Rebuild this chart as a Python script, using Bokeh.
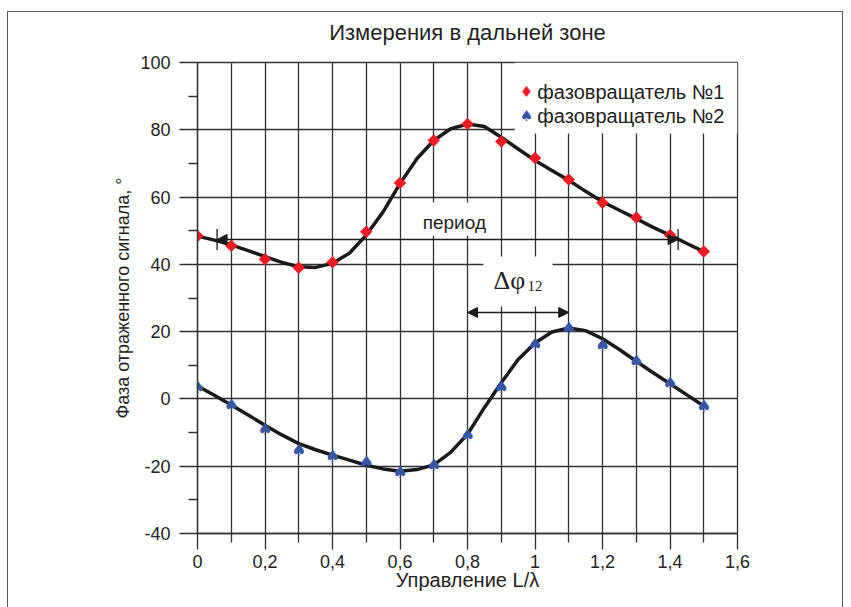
from bokeh.plotting import figure
from bokeh.models import (FixedTicker, Range1d, Arrow, NormalHead, TeeHead, Label,
                          BoxAnnotation, ColumnDataSource, InlineStyleSheet)
from bokeh.core.properties import value
from bokeh.embed import file_html
from bokeh.resources import INLINE

# ---------------- data ----------------
x_points = [0.0, 0.1, 0.2, 0.3, 0.4, 0.5, 0.6, 0.7, 0.8, 0.9, 1.0, 1.1, 1.2, 1.3, 1.4, 1.5]
phase1 = [48.4, 45.5, 41.5, 39.0, 40.6, 49.7, 64.2, 76.8, 81.7, 76.5, 71.6, 65.2, 58.3, 53.9, 48.7, 43.8]
phase2 = [3.5, -1.9, -8.9, -15.3, -17.0, -18.8, -21.6, -19.7, -10.8, 3.5, 16.3, 21.2, 16.0, 11.2, 4.6, -2.2]

curve_x = [0.0, 0.05, 0.1, 0.15, 0.2, 0.25, 0.3, 0.35, 0.4, 0.45, 0.5, 0.55, 0.6, 0.65, 0.7, 0.75,
           0.8, 0.85, 0.9, 0.95, 1.0, 1.05, 1.1, 1.15, 1.2, 1.25, 1.3, 1.35, 1.4, 1.45, 1.5]
curve1 = [48.4, 47.2, 45.8, 44.1, 42.3, 40.6, 39.3, 39.1, 40.3, 43.3, 48.7, 55.6, 64.0, 71.4, 76.8, 80.3,
          81.7, 81.0, 77.8, 74.3, 70.9, 67.9, 65.0, 61.7, 58.6, 56.1, 53.6, 51.0, 48.7, 46.2, 43.8]
curve2 = [3.8, 1.1, -1.8, -4.8, -7.8, -10.7, -13.3, -15.1, -16.7, -18.2, -19.7, -20.8, -21.5, -21.0, -19.6, -15.9,
          -10.5, -2.6, 4.8, 11.7, 16.6, 19.9, 21.1, 20.3, 17.9, 14.7, 11.2, 7.8, 4.5, 1.2, -2.1]

x_ticks = [0.0, 0.2, 0.4, 0.6, 0.8, 1.0, 1.2, 1.4, 1.6]
x_tick_labels = ["0", "0,2", "0,4", "0,6", "0,8", "1", "1,2", "1,4", "1,6"]
x_minor = [0.1, 0.3, 0.5, 0.7, 0.9, 1.1, 1.3, 1.5]
x_grid = [0.0, 0.1, 0.2, 0.3, 0.4, 0.5, 0.6, 0.7, 0.8, 0.9, 1.0, 1.1, 1.2, 1.3, 1.4, 1.5, 1.6]
y_ticks = [-40, -20, 0, 20, 40, 60, 80, 100]
y_tick_labels = ["-40", "-20", "0", "20", "40", "60", "80", "100"]
y_minor = [-30, -10, 10, 30, 50, 70, 90]

series_names = ["фазовращатель №1", "фазовращатель №2"]
title_text = "Измерения в дальней зоне"
x_label = "Управление L/λ"
y_label = "Фаза отраженного сигнала, °"

RED = "#ed1c24"
BLUE = "#3656a6"
INK = "#231f20"
GRID = "#303030"
FONT = "Liberation Sans"
SERIF = "Liberation Serif"

frame_css = InlineStyleSheet(css="""
:host { position: relative; }
:host::after {
  content: "";
  position: absolute;
  left: 7px; top: 11px; width: 836px; height: 600px;
  border: 1.5px solid #5a5a5a;
  box-sizing: border-box;
  pointer-events: none;
  z-index: 1000;
}
""")

p = figure(width=851, height=607, output_backend="svg", toolbar_location=None,
           x_range=Range1d(0, 1.6), y_range=Range1d(-40, 100),
           min_border_left=197, min_border_right=114, min_border_top=60, min_border_bottom=74,
           stylesheets=[frame_css])

p.title.text = title_text
p.title.align = "center"
p.title.text_font = FONT
p.title.text_font_size = "22px"
p.title.text_font_style = "normal"
p.title.text_color = INK
p.title.standoff = 35

p.outline_line_color = GRID
p.outline_line_width = 1.3
p.outline_line_alpha = 1.0

# grid
p.xgrid.ticker = FixedTicker(ticks=x_grid)
p.ygrid.ticker = FixedTicker(ticks=y_ticks)
for g in (p.xgrid, p.ygrid):
    g.grid_line_color = GRID
    g.grid_line_width = 1.3

# axes
p.xaxis.ticker = FixedTicker(ticks=x_ticks, minor_ticks=x_minor)
p.xaxis.major_label_overrides = {t: s for t, s in zip(x_ticks, x_tick_labels)}
p.yaxis.ticker = FixedTicker(ticks=y_ticks, minor_ticks=y_minor)
p.yaxis.major_label_overrides = {t: s for t, s in zip(y_ticks, y_tick_labels)}

for ax in (p.xaxis, p.yaxis):
    ax.axis_line_color = GRID
    ax.axis_line_width = 1.3
    ax.major_tick_line_color = GRID
    ax.major_tick_line_width = 1.3
    ax.minor_tick_line_color = GRID
    ax.minor_tick_line_width = 1.3
    ax.major_tick_in = 0
    ax.minor_tick_in = 0
    ax.major_label_text_font = FONT
    ax.major_label_text_font_size = "18px"
    ax.major_label_text_color = INK
    ax.axis_label_text_font = FONT
    ax.axis_label_text_font_style = "normal"
    ax.axis_label_text_color = INK

p.xaxis.major_tick_out = 16
p.xaxis.minor_tick_out = 9
p.xaxis.major_label_standoff = 5
p.xaxis.axis_label = x_label
p.xaxis.axis_label_text_font_size = "20px"
p.xaxis.axis_label_standoff = -2

p.yaxis.major_tick_out = 18
p.yaxis.minor_tick_out = 9
p.yaxis.major_label_standoff = 9
p.yaxis.axis_label = y_label
p.yaxis.axis_label_text_font_size = "18px"
p.yaxis.axis_label_standoff = 4

# curves
p.line(curve_x, curve1, line_color="#1a1a1a", line_width=3.5, line_join="round", line_cap="round")
p.line(curve_x, curve2, line_color="#1a1a1a", line_width=3.5, line_join="round", line_cap="round")

# markers
src1 = ColumnDataSource(dict(x=x_points, y=phase1))
src2 = ColumnDataSource(dict(x=x_points, y=phase2, t=["♠"] * len(x_points)))
p.scatter("x", "y", source=src1, marker="square", angle=0.785398, size=8.5,
          fill_color=RED, line_color=RED, line_width=0.5)
p.text("x", "y", text="t", source=src2, text_color=BLUE, text_font=value("DejaVu Sans"),
       text_font_size="17px", text_align="center", text_baseline="middle")

# white boxes behind labels
p.add_layout(BoxAnnotation(left=0.94, right=1.6, bottom=78.9, top=100, fill_color="white",
                           fill_alpha=1.0, line_color=None))
p.add_layout(BoxAnnotation(left=0.63, right=0.885, bottom=48.5, top=58.4, fill_color="white",
                           fill_alpha=1.0, line_color=None))
p.add_layout(BoxAnnotation(left=0.847, right=1.052, bottom=27.5, top=42.3, fill_color="white",
                           fill_alpha=1.0, line_color=None))

# legend (manual)
p.add_layout(Label(x=0.975, y=91.1, text="♦", text_color=RED, text_font="DejaVu Sans",
                   text_font_size="15px", text_align="center", text_baseline="middle"))
p.add_layout(Label(x=0.975, y=84.1, text="♠", text_color=BLUE, text_font="DejaVu Sans",
                   text_font_size="15px", text_align="center", text_baseline="middle"))
p.add_layout(Label(x=1.007, y=91.1, text=series_names[0], text_color=INK, text_font=FONT,
                   text_font_size="20px", text_align="left", text_baseline="middle"))
p.add_layout(Label(x=1.007, y=84.1, text=series_names[1], text_color=INK, text_font=FONT,
                   text_font_size="20px", text_align="left", text_baseline="middle"))

# period arrow
p.add_layout(Arrow(x_start=0.058, y_start=47.4, x_end=1.424, y_end=47.4,
                   start=NormalHead(size=10, fill_color="#1a1a1a", line_color="#1a1a1a"),
                   end=NormalHead(size=10, fill_color="#1a1a1a", line_color="#1a1a1a"),
                   line_color="#1a1a1a", line_width=1.5))
p.add_layout(Arrow(x_start=0.058, y_start=47.4, x_end=1.424, y_end=47.4,
                   start=TeeHead(size=21, line_color="#1a1a1a", line_width=1.3),
                   end=TeeHead(size=21, line_color="#1a1a1a", line_width=1.3),
                   line_alpha=0))
p.add_layout(Label(x=0.761, y=52.3, text="период", text_color=INK, text_font=FONT,
                   text_font_size="19px", text_align="center", text_baseline="middle"))

# delta phi arrow
p.add_layout(Arrow(x_start=0.8, y_start=25.7, x_end=1.1, y_end=25.7,
                   start=NormalHead(size=10, fill_color="#1a1a1a", line_color="#1a1a1a"),
                   end=NormalHead(size=10, fill_color="#1a1a1a", line_color="#1a1a1a"),
                   line_color="#1a1a1a", line_width=1.5))
p.add_layout(Label(x=0.877, y=35.2, text="Δφ", text_color=INK, text_font=SERIF,
                   text_font_size="26px", text_align="left", text_baseline="alphabetic"))
p.add_layout(Label(x=0.978, y=33.5, text="12", text_color=INK, text_font=SERIF,
                   text_font_size="15px", text_align="left", text_baseline="alphabetic"))

open("out.html", "w").write(file_html(p, INLINE))
